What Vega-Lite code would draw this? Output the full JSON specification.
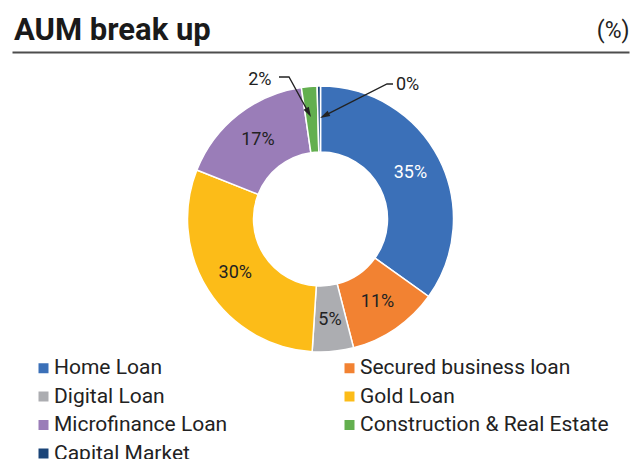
{
  "$schema": "https://vega.github.io/schema/vega-lite/v6.json",
  "autosize": "none",
  "width": 617,
  "height": 334,
  "padding": {"left": 12, "top": 52, "right": 4, "bottom": 73},
  "background": "white",
  "config": {
    "view": {"stroke": null},
    "font": "Roboto"
  },
  "title": {
    "text": "AUM break up",
    "anchor": "start",
    "frame": "group",
    "font": "Roboto",
    "fontSize": 31,
    "fontWeight": "bold",
    "color": "#1a1a1a",
    "dx": 2,
    "offset": -28
  },
  "datasets": {
    "slices": [
      {"cat": "Home Loan", "value": 34.9, "label": "35%", "idx": 1},
      {"cat": "Secured business loan", "value": 11.1, "label": "11%", "idx": 2},
      {"cat": "Digital Loan", "value": 5.0, "label": "5%", "idx": 3},
      {"cat": "Gold Loan", "value": 30.0, "label": "30%", "idx": 4},
      {"cat": "Microfinance Loan", "value": 16.7, "label": "17%", "idx": 5},
      {"cat": "Construction & Real Estate", "value": 1.9, "label": "2%", "idx": 6},
      {"cat": "Capital Market", "value": 0.4, "label": "0%", "idx": 7}
    ],
    "leaders": [
      {"id": "a", "k": 1, "u": -0.3120, "v": 1.0677},
      {"id": "a", "k": 2, "u": -0.2368, "v": 1.0677},
      {"id": "a", "k": 3, "u": -0.0895, "v": 0.8000},
      {"id": "b", "k": 1, "u": 0.5451, "v": 1.0150},
      {"id": "b", "k": 2, "u": 0.5000, "v": 1.0150},
      {"id": "b", "k": 3, "u": 0.0301, "v": 0.7767}
    ]
  },
  "layer": [
    {
      "data": {"name": "slices"},
      "mark": {"type": "arc", "outerRadius": 133, "innerRadius": 67, "stroke": "white", "strokeWidth": 1.5},
      "encoding": {
        "theta": {"field": "value", "type": "quantitative", "stack": true},
        "order": {"field": "idx", "type": "quantitative"},
        "color": {
          "field": "cat",
          "type": "nominal",
          "scale": {
            "domain": ["Home Loan", "Secured business loan", "Digital Loan", "Gold Loan", "Microfinance Loan", "Construction & Real Estate", "Capital Market"],
            "range": ["#3B70B8", "#F28232", "#ACADB1", "#FCBC18", "#9A7DB8", "#63AF4F", "#1A4478"]
          },
          "legend": {
            "orient": "none",
            "legendX": 21,
            "legendY": 305.5,
            "title": null,
            "columns": 2,
            "columnPadding": 111,
            "rowPadding": 6.5,
            "values": ["Home Loan", "Digital Loan", "Microfinance Loan", "Capital Market", "Secured business loan", "Gold Loan", "Construction & Real Estate"],
            "symbolType": "square",
            "symbolSize": 100,
            "symbolStrokeWidth": 0,
            "labelFont": "Roboto",
            "labelFontSize": 21,
            "labelColor": "#222222",
            "labelOffset": 0,
            "labelLimit": 400,
            "padding": 0
          }
        }
      }
    },
    {
      "data": {"name": "slices"},
      "mark": {"type": "text", "radius": 101, "font": "Roboto", "fontSize": 18},
      "encoding": {
        "theta": {"field": "value", "type": "quantitative", "stack": true},
        "order": {"field": "idx", "type": "quantitative"},
        "text": {"condition": {"test": "datum.idx <= 5", "field": "label"}, "value": ""},
        "color": {"condition": {"test": "datum.idx === 1", "value": "white"}, "value": "#222222"}
      }
    },
    {
      "data": {"name": "slices"},
      "mark": {"type": "text", "radius": 150, "font": "Roboto", "fontSize": 18, "color": "#222222", "dx": -48, "dy": 10},
      "encoding": {
        "theta": {"field": "value", "type": "quantitative", "stack": true},
        "order": {"field": "idx", "type": "quantitative"},
        "text": {"condition": {"test": "datum.idx === 6", "field": "label"}, "value": ""}
      }
    },
    {
      "data": {"name": "slices"},
      "mark": {"type": "text", "radius": 150, "font": "Roboto", "fontSize": 18, "color": "#222222", "dx": 89, "dy": 16},
      "encoding": {
        "theta": {"field": "value", "type": "quantitative", "stack": true},
        "order": {"field": "idx", "type": "quantitative"},
        "text": {"condition": {"test": "datum.idx === 7", "field": "label"}, "value": ""}
      }
    },
    {
      "data": {"name": "leaders"},
      "mark": {"type": "line", "color": "#222222", "strokeWidth": 1.3},
      "encoding": {
        "x": {
          "field": "u", "type": "quantitative",
          "scale": {"domain": [-2.3195, 2.3195], "nice": false, "zero": false},
          "axis": {
            "orient": "top", "domain": true, "domainColor": "#4d4d4d", "domainWidth": 2,
            "ticks": false, "labels": false, "grid": false,
            "title": "(%)", "titleAnchor": "end", "titleFont": "Roboto", "titleFontSize": 23,
            "titleFontWeight": "normal", "titleColor": "#222222", "titlePadding": 10
          }
        },
        "y": {
          "field": "v", "type": "quantitative",
          "scale": {"domain": [-1.2556, 1.2556], "nice": false, "zero": false},
          "axis": null
        },
        "detail": {"field": "id"},
        "order": {"field": "k", "type": "quantitative"}
      }
    },
    {
      "data": {"name": "leaders"},
      "transform": [{"filter": "datum.id === 'a' && datum.k === 3"}],
      "mark": {"type": "point", "shape": "M0,1L-0.6,-1L0.6,-1Z", "filled": true, "color": "#222222", "size": 100, "angle": -29, "opacity": 1},
      "encoding": {
        "x": {"field": "u", "type": "quantitative"},
        "y": {"field": "v", "type": "quantitative"}
      }
    },
    {
      "data": {"name": "leaders"},
      "transform": [{"filter": "datum.id === 'b' && datum.k === 3"}],
      "mark": {"type": "point", "shape": "M0,1L-0.6,-1L0.6,-1Z", "filled": true, "color": "#222222", "size": 100, "angle": 63, "opacity": 1},
      "encoding": {
        "x": {"field": "u", "type": "quantitative"},
        "y": {"field": "v", "type": "quantitative"}
      }
    }
  ]
}
